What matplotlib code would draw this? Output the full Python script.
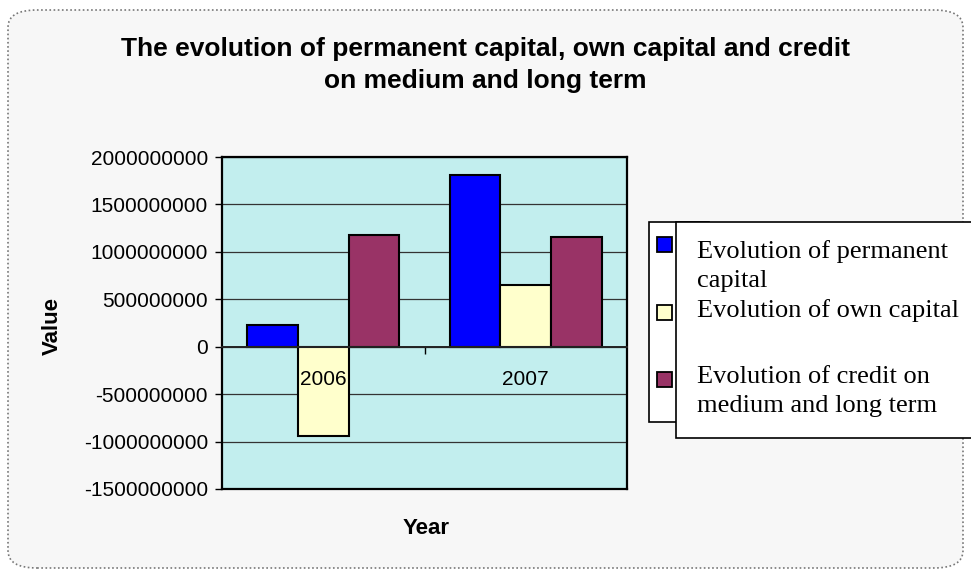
import matplotlib.pyplot as plt
import numpy as np
from matplotlib.patches import FancyBboxPatch, Rectangle

years = ['2006', '2007']
series_names = [
    'Evolution of permanent\ncapital',
    'Evolution of own capital',
    'Evolution of credit on\nmedium and long term',
]
permanent_capital = [230000000, 1810000000]
own_capital = [-945000000, 650000000]
credit_medium_long = [1180000000, 1160000000]
y_ticks = [-1500000000, -1000000000, -500000000, 0, 500000000, 1000000000, 1500000000, 2000000000]

colors = ['#0000ff', '#ffffcc', '#993366']

W, H = 971, 576
fig = plt.figure(figsize=(W / 100, H / 100), dpi=100)
fig.patch.set_facecolor('white')

# rounded dotted border of the chart area
border = FancyBboxPatch((8 / W, 8 / H), 955 / W, 558 / H,
                        boxstyle='round,pad=0,rounding_size=0.03',
                        transform=fig.transFigure, facecolor='#f7f7f7',
                        edgecolor='#777777', linestyle=(0, (1, 1.5)), linewidth=1.2,
                        zorder=-5)
fig.patches.append(border)

ax = fig.add_axes([222 / W, 1 - 489 / H, 405 / W, 332 / H])
ax.set_facecolor('#c2eeee')

x = np.arange(len(years))
width = 0.25
all_series = [permanent_capital, own_capital, credit_medium_long]
for i, (vals, col) in enumerate(zip(all_series, colors)):
    ax.bar(x + (i - 1) * width, vals, width, color=col, edgecolor='black',
           linewidth=1.5, zorder=3)

ax.set_xlim(-0.5, 1.5)
ymin, ymax = y_ticks[0], y_ticks[-1]
ax.set_ylim(ymin, ymax)
ax.set_yticks(y_ticks)
ax.set_yticklabels([str(v) for v in y_ticks], fontsize=15, family='Liberation Sans')
ax.yaxis.grid(True, color='#333333', linewidth=0.9, zorder=1)
ax.set_axisbelow(True)
ax.tick_params(axis='y', direction='out', length=5, width=1, pad=5)
ax.set_xticks([])
for s in ax.spines.values():
    s.set_linewidth(1.6)

# category axis sits at zero, drawn over the bars
zero_frac = (0 - ymin) / (ymax - ymin)
sec = ax.secondary_xaxis(zero_frac)
sec.set_zorder(6)
sec.set_xticks(x)
sec.set_xticklabels(years, fontsize=15, family='Liberation Sans')
sec.set_xticks([0.5], minor=True)
sec.tick_params(axis='x', which='major', length=0, pad=17)
sec.tick_params(axis='x', which='minor', length=5, width=1, direction='out')
sec.spines['bottom'].set_linewidth(1.4)
sec.spines['bottom'].set_color('#222222')

fig.text(485 / W, 1 - 65 / H,
         'The evolution of permanent capital, own capital and credit\non medium and long term',
         ha='center', va='center', fontsize=19, fontweight='bold',
         family='Liberation Sans', linespacing=1.45)
fig.text(52 / W, 1 - 326 / H, 'Value', rotation=90, ha='center', va='center',
         fontsize=16, fontweight='bold', family='Liberation Sans')
fig.text(426 / W, 1 - 528 / H, 'Year', ha='center', va='center',
         fontsize=16, fontweight='bold', family='Liberation Sans')

# legend boxes (outer one holds the keys, inner one the texts)
fig.patches.append(Rectangle((649 / W, 1 - 422 / H), 60 / W, 200 / H,
                             transform=fig.transFigure, facecolor='white',
                             edgecolor='black', linewidth=1.2, zorder=1))
fig.patches.append(Rectangle((676 / W, 1 - 438 / H), 320 / W, 216 / H,
                             transform=fig.transFigure, facecolor='white',
                             edgecolor='black', linewidth=1.2, zorder=2))

key_tops = [237, 305, 372]
text_baselines = [258, 317, 383]
for name, col, ktop, base in zip(series_names, colors, key_tops, text_baselines):
    fig.patches.append(Rectangle((657 / W, 1 - (ktop + 15) / H), 15 / W, 15 / H,
                                 transform=fig.transFigure, facecolor=col,
                                 edgecolor='black', linewidth=1.3, zorder=3))
    fig.text(697 / W, 1 - base / H, name.split('\n')[0], ha='left', va='baseline',
             fontsize=19, family='Liberation Serif', zorder=4)
    if '\n' in name:
        fig.text(697 / W, 1 - (base + 29) / H, name.split('\n')[1], ha='left',
                 va='baseline', fontsize=19, family='Liberation Serif', zorder=4)

fig.savefig('out.png', dpi=100)
